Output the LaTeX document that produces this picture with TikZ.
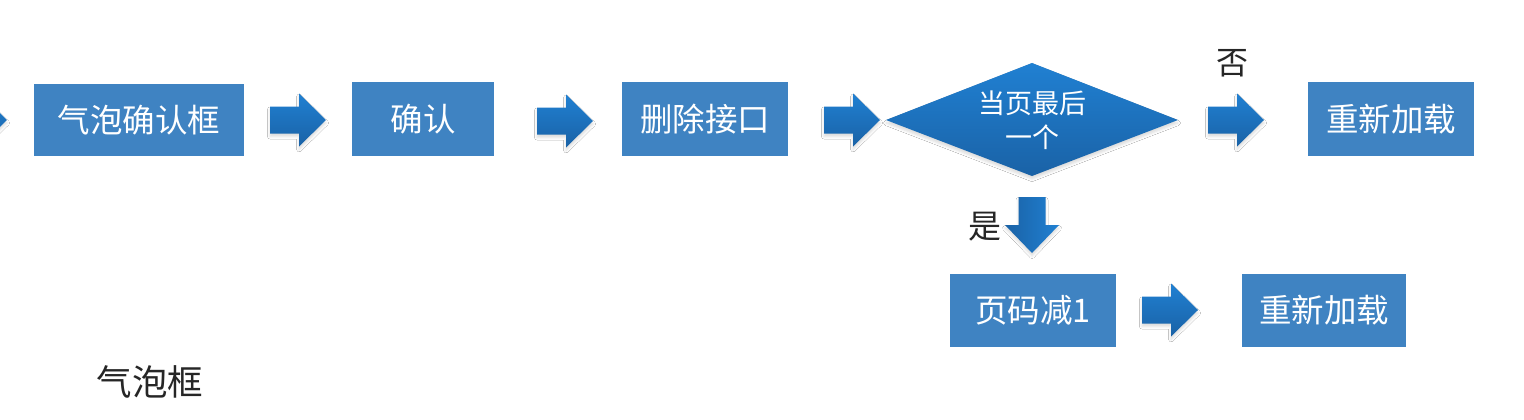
\documentclass[tikz,border=0pt]{standalone}
\usepackage{fontspec}
\setmainfont{Noto Sans CJK SC}
\usetikzlibrary{shadows.blur,calc}
\definecolor{boxblue}{HTML}{3F83C2}
\definecolor{arrtop}{HTML}{2080D2}
\definecolor{arrbot}{HTML}{1A62A6}
\definecolor{labelgray}{HTML}{262626}
\tikzset{
  stepbox/.style={rectangle, fill=boxblue, draw=none, text=white, inner sep=0pt,
    font=\fontsize{32.5}{36}\selectfont},
  softshadow/.style={blur shadow={shadow xshift=0pt, shadow yshift=-3pt, shadow blur radius=2.5pt, shadow opacity=14}},
  blockarr/.style={top color=arrtop, bottom color=arrbot, draw=none, softshadow},
  blockarrdown/.style={left color=arrbot, right color=arrtop, draw=none, softshadow},
  sidelabel/.style={text=labelgray, inner sep=0pt, font=\fontsize{32}{36}\selectfont},
}
\newcommand\harr[3]{% name, x start, y centre
  \path[blockarr] (#2,#3-13.5) -- (#2+29,#3-13.5) -- (#2+29,#3-26.5) -- (#2+56,#3)
    -- (#2+29,#3+26.5) -- (#2+29,#3+13.5) -- (#2,#3+13.5) -- cycle;
  \coordinate (#1) at (#2+28,#3);}
\begin{document}
\begin{tikzpicture}[x=1pt,y=-1pt]
\useasboundingbox (0,0) rectangle (1524,420);
\fill[white] (0,0) rectangle (1524,420);
\begin{scope}
\clip (0,0) rectangle (1524,420);
% boxes
\node[stepbox, minimum width=210pt, minimum height=72pt] (b1) at (139,120) {气泡确认框};
\node[stepbox, minimum width=142pt, minimum height=74pt] (b2) at (423,119) {确认};
\node[stepbox, minimum width=166pt, minimum height=74pt] (b3) at (705,119) {删除接口};
\node[stepbox, minimum width=166pt, minimum height=74pt] (b4) at (1391,119) {重新加载};
\node[stepbox, minimum width=166pt, minimum height=73pt] (b5) at (1033,310.5) {页码减1};
\node[stepbox, minimum width=164pt, minimum height=73pt] (b6) at (1324,310.5) {重新加载};
% decision diamond
\path[top color=arrtop, bottom color=arrbot, draw=none, softshadow]
  (886,120) -- (1032,63) -- (1178,120) -- (1032,176) -- cycle;
\node[text=white, align=center, inner sep=0pt, font=\fontsize{27}{34}\selectfont] (dec) at (1032,120) {当页最后\\一个};
% block arrows
\harr{a0}{-49}{120}
\harr{a1}{270}{120}
\harr{a2}{537}{121}
\harr{a3}{824}{120}
\harr{a4}{1208}{120}
\harr{a6}{1142}{310}
\path[blockarrdown] (1018.5,197) -- (1045.5,197) -- (1045.5,225) -- (1059,225) -- (1032,253)
  -- (1005,225) -- (1018.5,225) -- cycle;
\coordinate (a5) at (1032,225);
% labels
\node[sidelabel] (no) at (1232,63) {否};
\node[sidelabel, font=\fontsize{33}{36}\selectfont] (yes) at (985,227) {是};
\node[text=labelgray, inner sep=0pt, font=\fontsize{35.5}{40}\selectfont] (title) at (150,382) {气泡框};
\end{scope}
\end{tikzpicture}
\end{document}
